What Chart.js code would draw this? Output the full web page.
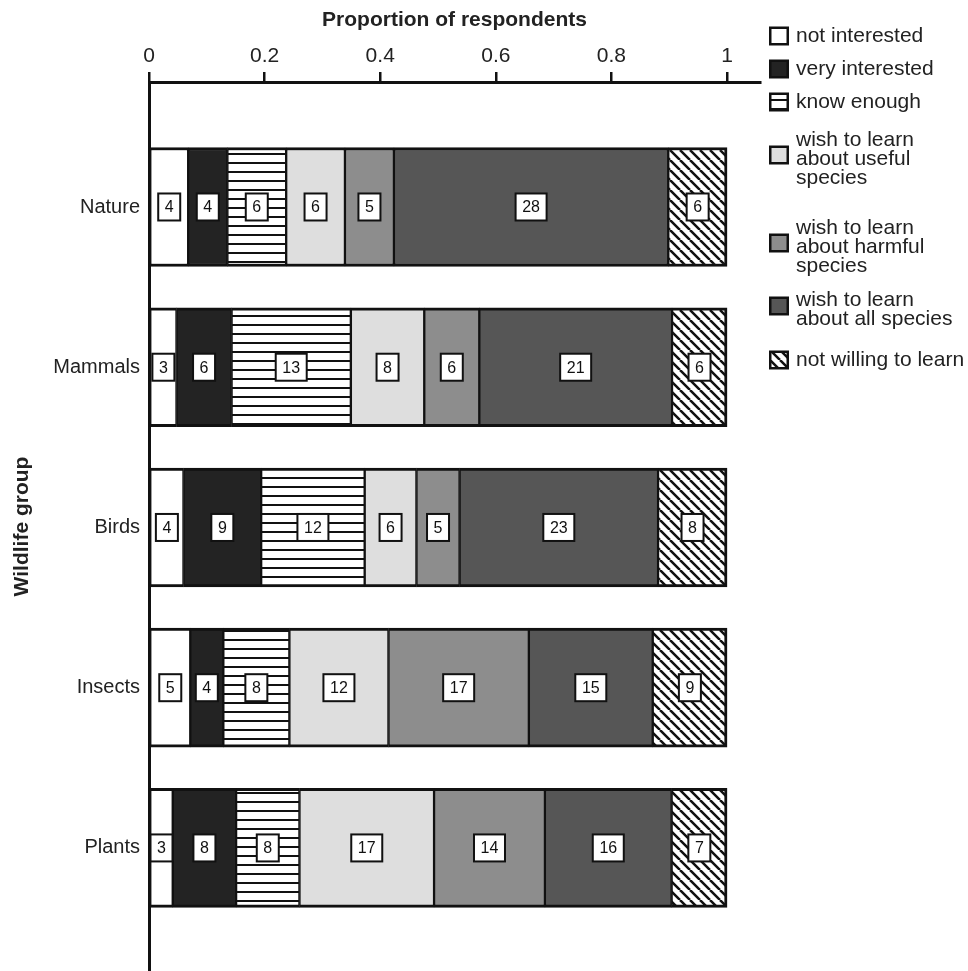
<!DOCTYPE html>
<html>
<head>
<meta charset="utf-8">
<script src="https://cdn.jsdelivr.net/npm/chart.js@4.4.1/dist/chart.umd.min.js"></script>
<style>
  html, body { margin: 0; padding: 0; background: #fff; }
  canvas { display: block; }
</style>
</head>
<body>
<canvas id="myChart" width="968" height="971"></canvas>
<script>
// data (number of respondents per answer)
const groups = ['Nature', 'Mammals', 'Birds', 'Insects', 'Plants'];
const notInterested  = [4, 3, 4, 5, 3];
const veryInterested = [4, 6, 9, 4, 8];
const knowEnough     = [6, 13, 12, 8, 8];
const usefulSpecies  = [6, 8, 6, 12, 17];
const harmfulSpecies = [5, 6, 5, 17, 14];
const allSpecies     = [28, 21, 23, 15, 16];
const notWilling     = [6, 6, 8, 9, 7];
const seriesNames = [
  'not interested',
  'very interested',
  'know enough',
  'wish to learn\nabout useful\nspecies',
  'wish to learn\nabout harmful\nspecies',
  'wish to learn\nabout all species',
  'not willing to learn'
];
const xTicks = [0, 0.2, 0.4, 0.6, 0.8, 1];

const seriesCounts = [notInterested, veryInterested, knowEnough, usefulSpecies, harmfulSpecies, allSpecies, notWilling];
const totals = groups.map((g, j) => seriesCounts.reduce((s, arr) => s + arr[j], 0));

var canvas = document.getElementById('myChart');
var ctx = canvas.getContext('2d');
var FONT = '"Liberation Sans", Arial, Helvetica, sans-serif';

// fill patterns
function makeStripes() {
  var c = document.createElement('canvas');
  c.width = 9; c.height = 9;
  var g = c.getContext('2d');
  g.fillStyle = '#fff';
  g.fillRect(0, 0, 9, 9);
  g.fillStyle = '#111';
  g.fillRect(0, 0, 9, 2);
  return ctx.createPattern(c, 'repeat');
}

function makeHatch() {
  var s = 10;
  var c = document.createElement('canvas');
  c.width = s; c.height = s;
  var g = c.getContext('2d');
  g.fillStyle = '#fff';
  g.fillRect(0, 0, s, s);
  g.strokeStyle = '#111';
  g.lineWidth = 2.5;
  g.beginPath();
  for (var k = -1; k <= 1; k++) {
    g.moveTo(k * s, 0);
    g.lineTo(k * s + s, s);
  }
  g.stroke();
  return ctx.createPattern(c, 'repeat');
}

var fills = ['#ffffff', '#232323', makeStripes(), '#dedede', '#8d8d8d', '#565656', makeHatch()];

var datasets = seriesNames.map(function(name, i) {
  return {
    label: name,
    data: groups.map(function(g, j) {
      return { x: seriesCounts[i][j] / totals[j], y: j + 1 };
    }),
    backgroundColor: fills[i],
    borderColor: '#111',
    borderWidth: { top: 3, bottom: 3, left: 1.5, right: i === seriesNames.length - 1 ? 3 : 1.5 },
    borderSkipped: false,
    barThickness: 119
  };
});

// white boxes with the counts
var countLabels = {
  id: 'countLabels',
  afterDatasetsDraw: function(chart) {
    var c = chart.ctx;
    c.save();
    c.font = '16px ' + FONT;
    c.textAlign = 'center';
    c.textBaseline = 'middle';
    chart.data.datasets.forEach(function(ds, i) {
      var meta = chart.getDatasetMeta(i);
      meta.data.forEach(function(bar, j) {
        var p = bar.getProps(['x', 'base', 'y'], true);
        var cx = (p.x + p.base) / 2;
        var cy = p.y;
        var txt = String(seriesCounts[i][j]);
        var w = Math.round(c.measureText(txt).width + 13);
        var h = 27;
        c.fillStyle = '#fff';
        c.fillRect(cx - w / 2, cy - h / 2, w, h);
        c.lineWidth = 2;
        c.strokeStyle = '#111';
        c.strokeRect(cx - w / 2, cy - h / 2, w, h);
        c.fillStyle = '#111';
        c.fillText(txt, cx, cy + 1);
      });
    });
    c.restore();
  }
};

// legend on the right, multi line labels
var sideLegend = {
  id: 'sideLegend',
  afterDraw: function(chart, args, opts) {
    var c = chart.ctx;
    c.save();
    c.font = '21px ' + FONT;
    c.textBaseline = 'middle';
    c.textAlign = 'left';
    chart.data.datasets.forEach(function(ds, i) {
      var lines = ds.label.split('\n');
      var cy = opts.centers[i];
      var by = lines.length > 1 ? cy - 4 : cy;
      c.fillStyle = '#111';
      c.fillRect(opts.boxX, by - 9.5, 20, 19);
      c.fillStyle = ds.backgroundColor;
      c.fillRect(opts.boxX + 2.5, by - 7, 15, 14);
      c.fillStyle = '#222';
      lines.forEach(function(line, k) {
        c.fillText(line, opts.textX, cy + (k - (lines.length - 1) / 2) * 19);
      });
    });
    c.restore();
  }
};

var chart = new Chart(ctx, {
  type: 'bar',
  data: { datasets: datasets },
  plugins: [countLabels, sideLegend],
  options: {
    indexAxis: 'y',
    responsive: false,
    animation: false,
    layout: { padding: { left: 0, right: 208, top: 0, bottom: 0 } },
    plugins: {
      legend: { display: false },
      tooltip: { enabled: false },
      sideLegend: { boxX: 769, textX: 796, centers: [36, 69, 102, 159, 247, 310, 360] }
    },
    scales: {
      x: {
        type: 'linear',
        position: 'top',
        stacked: true,
        min: 0,
        max: 1.057,
        afterBuildTicks: function(scale) {
          scale.ticks = xTicks.map(function(v) { return { value: v }; });
        },
        afterFit: function(scale) { scale.height = 82; },
        ticks: {
          color: '#222',
          font: { family: FONT, size: 21 },
          padding: 3,
          maxRotation: 0,
          callback: function(v) { return String(+v.toFixed(1)); }
        },
        grid: { drawOnChartArea: false, drawTicks: true, tickLength: 10, color: '#111', lineWidth: 2.5 },
        border: { display: true, color: '#111', width: 3 },
        title: {
          display: true,
          text: 'Proportion of respondents',
          color: '#222',
          font: { family: FONT, size: 21, weight: 'bold' },
          padding: { top: 8, bottom: 0 }
        }
      },
      y: {
        type: 'linear',
        stacked: true,
        reverse: true,
        offset: false,
        min: 0.22,
        max: 5.768,
        afterBuildTicks: function(scale) {
          scale.ticks = groups.map(function(g, i) { return { value: i + 1 }; });
        },
        afterFit: function(scale) {
          scale.width = 149;
          scale.paddingTop = 0;
          scale.paddingBottom = 0;
        },
        ticks: {
          color: '#222',
          font: { family: FONT, size: 20 },
          padding: 9,
          callback: function(v) { return groups[v - 1] || ''; }
        },
        grid: { display: false, drawTicks: false, offset: false },
        border: { display: true, color: '#111', width: 3 },
        title: {
          display: true,
          text: 'Wildlife group',
          color: '#222',
          font: { family: FONT, size: 21, weight: 'bold' },
          padding: { top: 10, bottom: 0 }
        }
      }
    }
  }
});
</script>
</body>
</html>
